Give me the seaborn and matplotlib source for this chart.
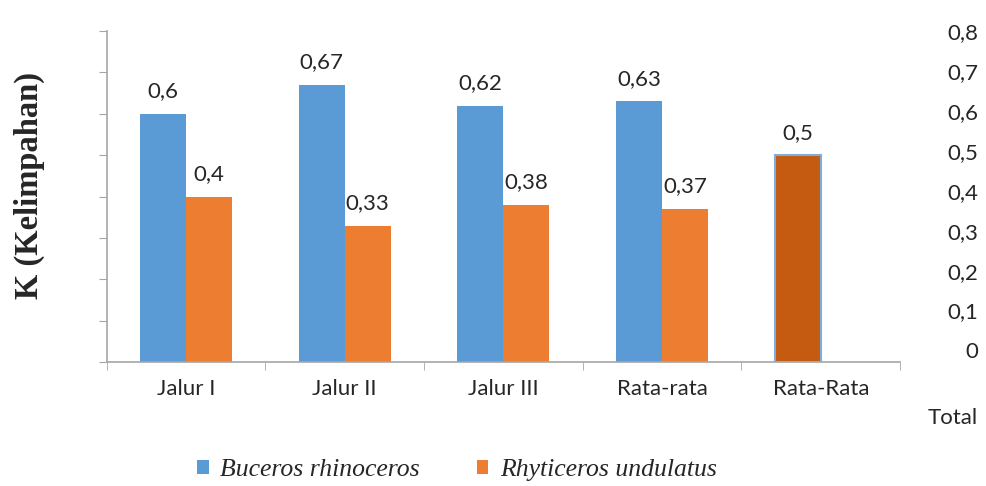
import matplotlib
matplotlib.use("Agg")
import numpy as np
import pandas as pd
import matplotlib.pyplot as plt
import seaborn as sns

sns.set_style('white')
plt.rcParams['font.family'] = ['Lato', 'DejaVu Sans']

# values
categories = ['Jalur I', 'Jalur II', 'Jalur III', 'Rata-rata', 'Rata-Rata']
buceros = [0.6, 0.67, 0.62, 0.63, 0.5]
rhyticeros = [0.4, 0.33, 0.38, 0.37, np.nan]
species = ['Buceros rhinoceros', 'Rhyticeros undulatus']
right_ticks = [0, 0.1, 0.2, 0.3, 0.4, 0.5, 0.6, 0.7, 0.8]

blue = '#5B9BD5'
orange = '#ED7D31'
dark_orange = '#C55A11'
grey = '#A6A6A6'

df = pd.DataFrame({
    'Kategori': categories * 2,
    'Spesies': [species[0]] * 5 + [species[1]] * 5,
    'K': buceros + rhyticeros,
}).dropna()

fig = plt.figure(figsize=(9.87, 4.86), dpi=100)
ax = fig.add_axes([0.108, 0.255, 0.804, 0.681])

sns.barplot(data=df, x='Kategori', y='K', hue='Spesies', order=categories,
            hue_order=species, palette=[blue, orange], width=0.58,
            saturation=1, linewidth=0, ax=ax, legend=True)

# the total bar is drawn in a darker orange with a blue outline
total_bar = ax.containers[0][4]
total_bar.set_facecolor(dark_orange)
total_bar.set_edgecolor('#7FAEDC')
total_bar.set_linewidth(1.5)

def fmt(v):
    return ('%g' % v).replace('.', ',')

for cont in ax.containers:
    vals = [p.get_height() for p in cont]
    ax.bar_label(cont, labels=[fmt(v) for v in vals], padding=9, fontsize=16)

ax.set_xlim(-0.5, 4.5)
ax.set_ylim(0, 0.8)
ax.set_yticks(right_ticks)
ax.set_yticklabels([])
ax.tick_params(axis='y', length=6, color=grey, direction='out', left=True)
ax.set_xticks(np.arange(-0.5, 5, 1), minor=True)
ax.tick_params(axis='x', which='major', length=0, pad=12, labelsize=16)
ax.tick_params(axis='x', which='minor', length=6, color=grey, direction='out', bottom=True)
ax.set_xlabel('')
ax.set_ylabel('K (Kelimpahan)', family=['Liberation Serif'], fontweight='bold',
              fontsize=23.5)
ax.yaxis.set_label_coords(-0.078, 0.532)
for side in ['top', 'right']:
    ax.spines[side].set_visible(False)
for side in ['left', 'bottom']:
    ax.spines[side].set_color(grey)
    ax.spines[side].set_linewidth(1.2)

# right-hand labels, sitting slightly above the tick positions
ax2 = ax.twinx()
off = 0.029
ax2.set_ylim(0 - off, 0.8 - off)
ax2.set_yticks(right_ticks)
ax2.set_yticklabels([fmt(v) for v in right_ticks], fontsize=16)
for t in ax2.get_yticklabels():
    t.set_ha('right')
ax2.tick_params(axis='y', length=0, pad=56)
for side in ax2.spines:
    ax2.spines[side].set_visible(False)

fig.text(0.991, 0.14, 'Total', ha='right', va='center', fontsize=16)

handles, labels = ax.get_legend_handles_labels()
ax.legend_.remove()
fig.legend(handles, labels, loc='center', bbox_to_anchor=(0.463, 0.032), ncol=2,
           frameon=False, handlelength=0.45, handleheight=0.45, handletextpad=0.45,
           columnspacing=2.2,
           prop={'family': 'Liberation Serif', 'style': 'italic', 'size': 18.5})

fig.savefig('out.png', dpi=100)
